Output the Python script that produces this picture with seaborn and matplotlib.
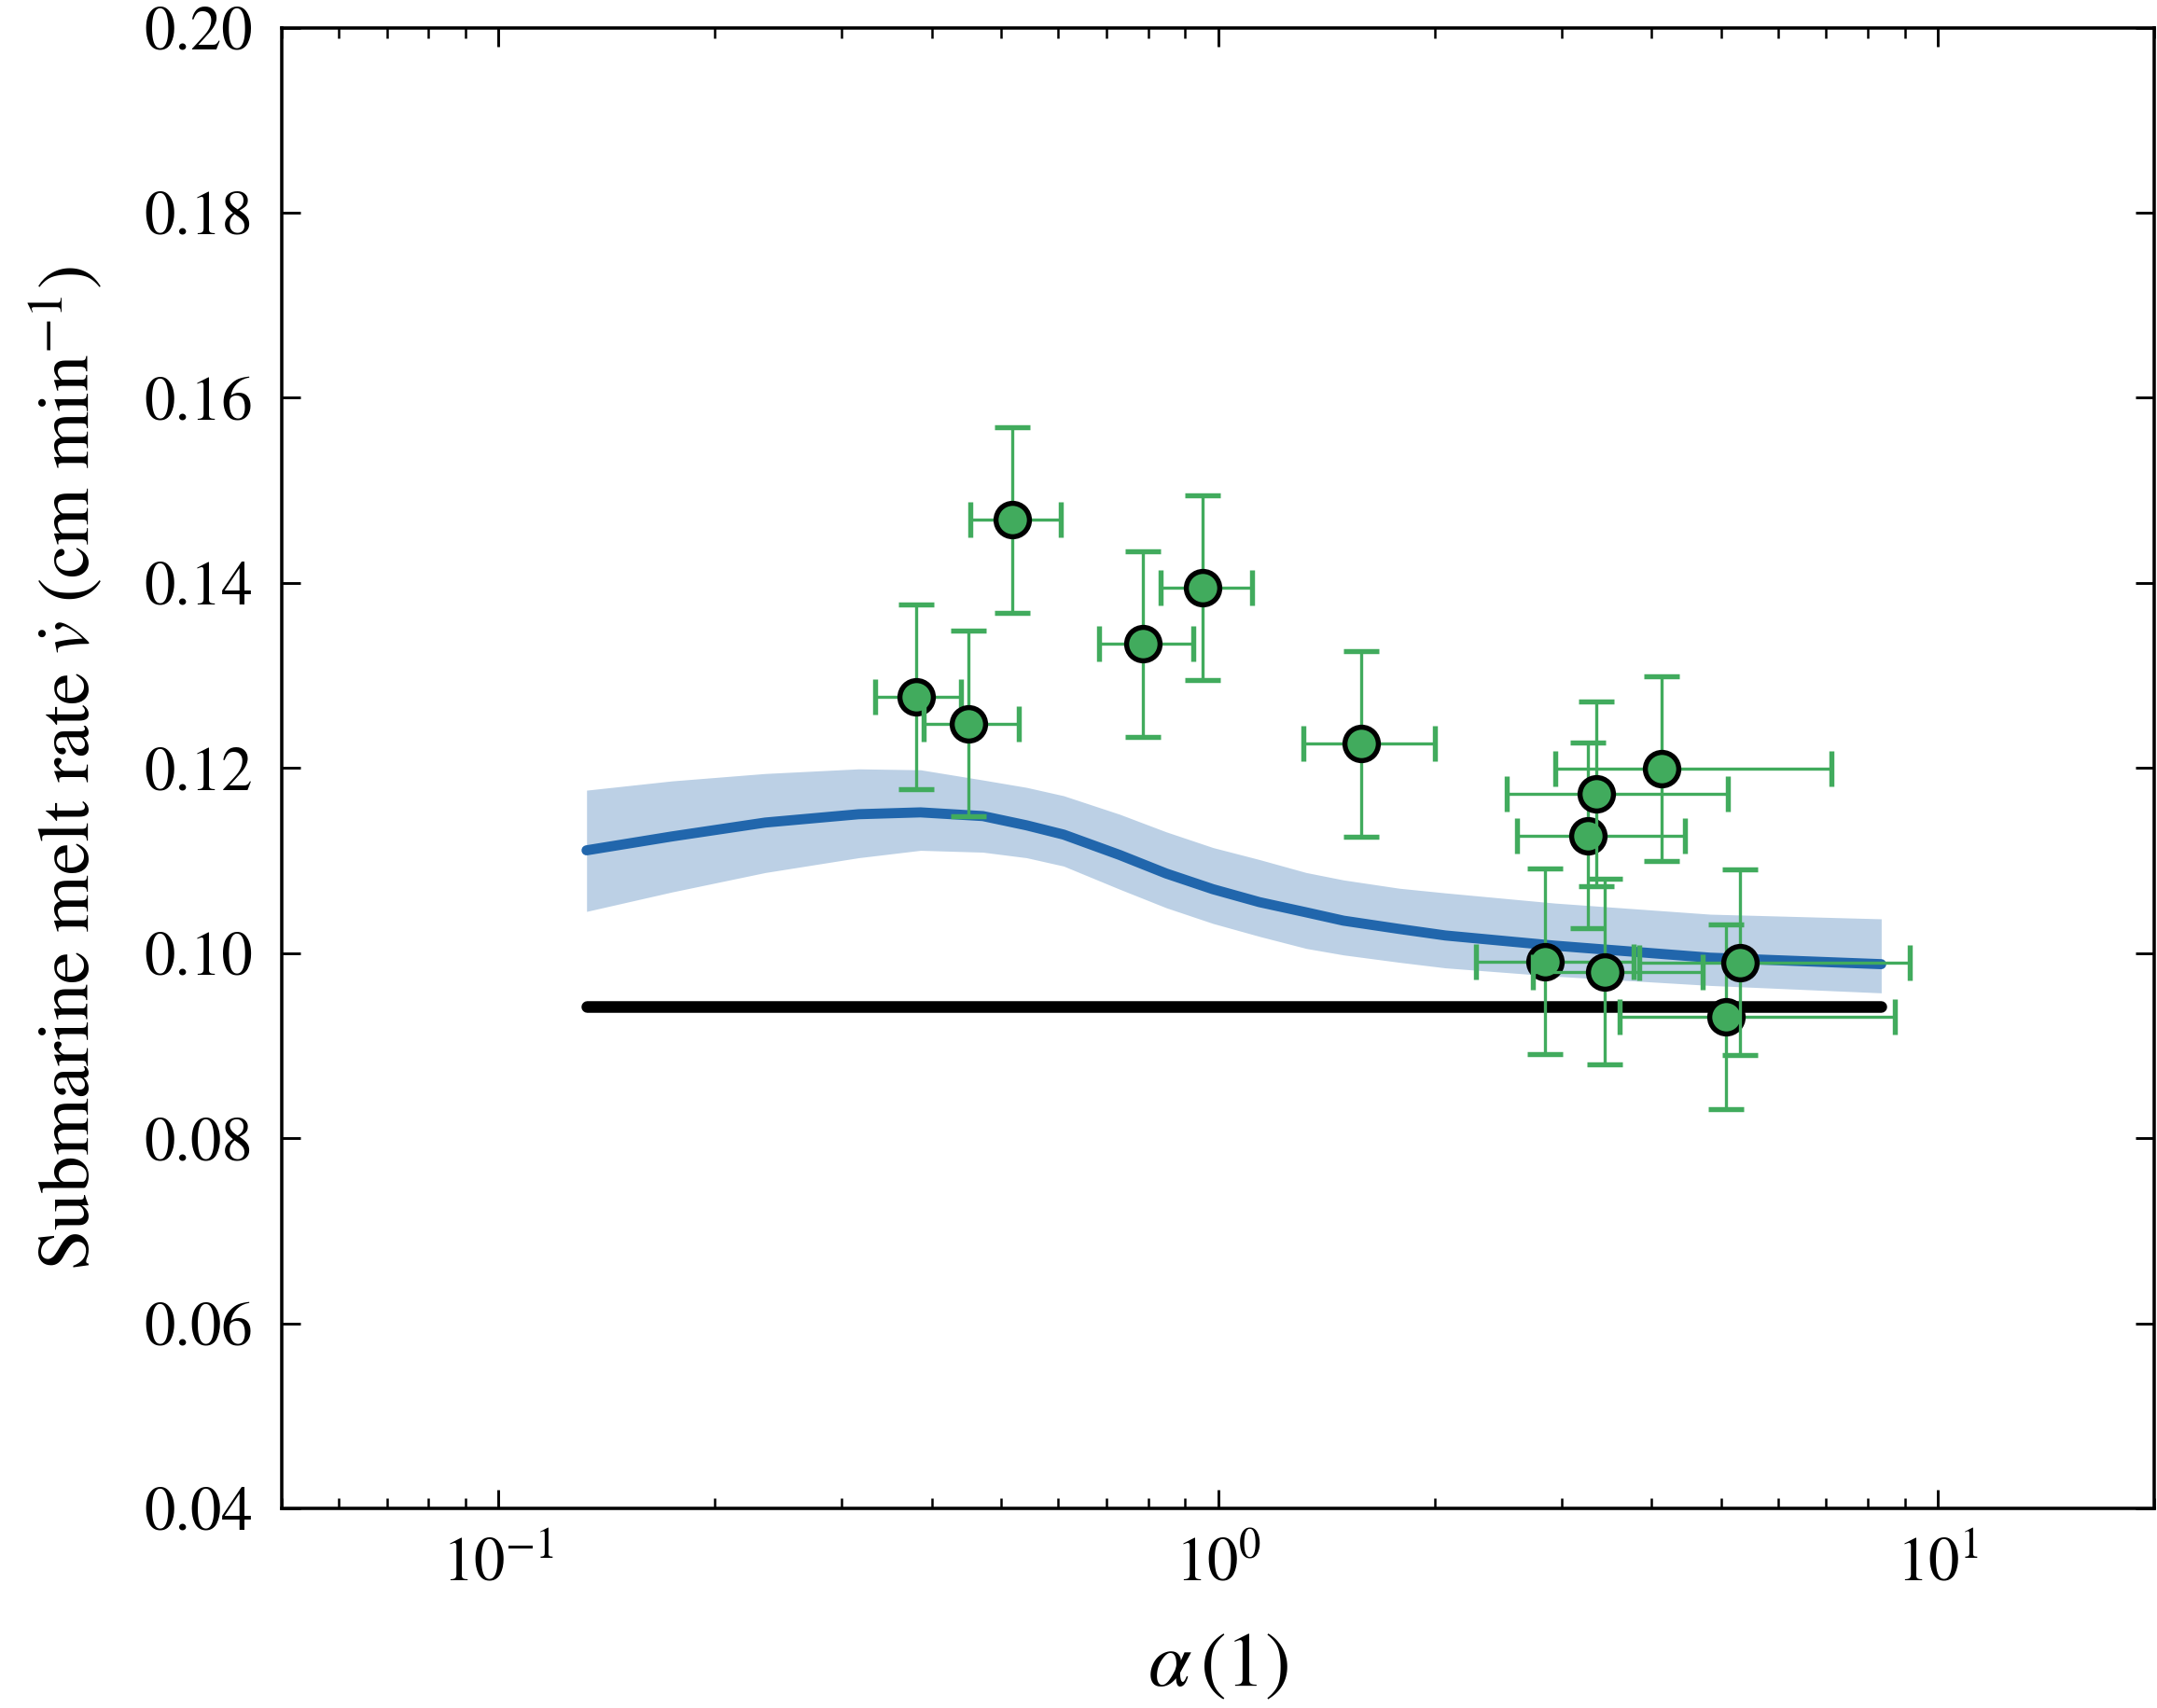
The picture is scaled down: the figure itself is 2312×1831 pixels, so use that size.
import numpy as np
import matplotlib
matplotlib.use("Agg")
import matplotlib.pyplot as plt
import seaborn as sns
from matplotlib.ticker import FormatStrFormatter, NullLocator, LogLocator

# ---------------- data ----------------
# model curve (mean) and its uncertainty band
alpha_model = [0.1326, 0.1743, 0.2349, 0.3166, 0.386, 0.4713, 0.542, 0.6102, 0.730,
               0.847, 0.984, 1.142, 1.326, 1.494, 1.787, 2.07, 2.938, 4.83, 8.35]
melt_model = [0.1111, 0.1126, 0.1141, 0.1150, 0.1152, 0.1148, 0.1138, 0.1128, 0.1106,
              0.1086, 0.1069, 0.1055, 0.1044, 0.1035, 0.1026, 0.1019, 0.1008, 0.0995, 0.0988]
melt_upper = [0.1176, 0.1186, 0.1194, 0.1199, 0.1198, 0.1187, 0.1179, 0.1170, 0.1150,
              0.1131, 0.1114, 0.1101, 0.1087, 0.1079, 0.1070, 0.1065, 0.1054, 0.1042, 0.1037]
melt_lower = [0.1045, 0.1066, 0.1087, 0.1103, 0.1111, 0.1109, 0.1103, 0.1094, 0.1069,
              0.1049, 0.1032, 0.1018, 0.1005, 0.0998, 0.0990, 0.0984, 0.0975, 0.0965, 0.0957]

# constant reference line
alpha_const = [0.1326, 8.35]
melt_const = [0.0942, 0.0942]

# observations with error bars
alpha_obs = [0.381, 0.450, 0.518, 0.786, 0.951, 1.580, 2.85, 3.27, 3.36, 3.45, 4.14, 5.08, 5.32]
alpha_lo  = [0.334, 0.390, 0.452, 0.684, 0.832, 1.313, 2.28, 2.60, 2.52, 2.74, 2.94, 3.61, 3.85]
alpha_hi  = [0.440, 0.528, 0.604, 0.923, 1.116, 2.003, 3.78, 4.46, 5.11, 4.71, 7.11, 8.72, 9.14]
melt_obs  = [0.1277, 0.1248, 0.1468, 0.1334, 0.1395, 0.1226, 0.0991, 0.1127, 0.1172,
             0.0980, 0.1199, 0.0931, 0.0990]
melt_err  = [0.0100, 0.0100, 0.0100, 0.0100, 0.0100, 0.0100, 0.0100, 0.0100, 0.0100,
             0.0100, 0.0100, 0.0100, 0.0100]

x_ticks = [0.1, 1, 10]
y_ticks = [0.04, 0.06, 0.08, 0.10, 0.12, 0.14, 0.16, 0.18, 0.20]

# ---------------- style ----------------
sns.set_theme(style="ticks")
plt.rcParams["font.family"] = ["STIXGeneral", "Liberation Serif", "DejaVu Serif"]
plt.rcParams["mathtext.fontset"] = "stix"
plt.rcParams["axes.linewidth"] = 0.85
for key in ["text.color", "axes.labelcolor", "xtick.color", "ytick.color", "axes.edgecolor"]:
    plt.rcParams[key] = "black"

BLUE = "#2166ac"
GREEN = "#41ab5d"

W, H = 2312, 1831
fig = plt.figure(figsize=(W / 300, H / 300), dpi=300)
ax = fig.add_axes([302 / W, 1 - 1617 / H, (2309 - 302) / W, (1617 - 29.5) / H])
ax.set_xscale("log")

ax.fill_between(alpha_model, melt_lower, melt_upper, color=BLUE, alpha=0.3, lw=0, zorder=2)
sns.lineplot(x=alpha_model, y=melt_model, ax=ax, color=BLUE, lw=2.6, zorder=3)
sns.lineplot(x=alpha_const, y=melt_const, ax=ax, color="black", lw=3.0, zorder=3)

order = np.argsort(alpha_obs)
for k, i in enumerate(order):
    xe = [[alpha_obs[i] - alpha_lo[i]], [alpha_hi[i] - alpha_obs[i]]]
    ax.errorbar([alpha_obs[i]], [melt_obs[i]], xerr=xe, yerr=[melt_err[i]],
                fmt="o", color=GREEN, mfc=GREEN, mec="black", ms=8.6, mew=1.3,
                ecolor=GREEN, elinewidth=0.8, capsize=4.5, capthick=0.9,
                zorder=5 + k * 0.5)

ax.set_xlim(0.05, 20)
ax.set_ylim(0.04, 0.20)
ax.set_xticks(x_ticks)
ax.xaxis.set_minor_locator(LogLocator(base=10, subs=np.arange(2, 10), numticks=20))
ax.set_yticks(y_ticks)
ax.yaxis.set_major_formatter(FormatStrFormatter("%.2f"))
ax.yaxis.set_minor_locator(NullLocator())

ax.tick_params(which="both", direction="in", top=True, right=True)
ax.tick_params(which="major", length=4.8, width=0.7, labelsize=16, pad=7.5)
ax.tick_params(which="minor", length=2.6, width=0.6)

ax.set_xlabel(r"$\alpha\,(1)$", fontsize=20, labelpad=10)
ax.set_ylabel(r"Submarine melt rate $\dot{v}$ (cm min$^{-1}$)", fontsize=19, labelpad=10)

fig.savefig("out.png", dpi=300)
